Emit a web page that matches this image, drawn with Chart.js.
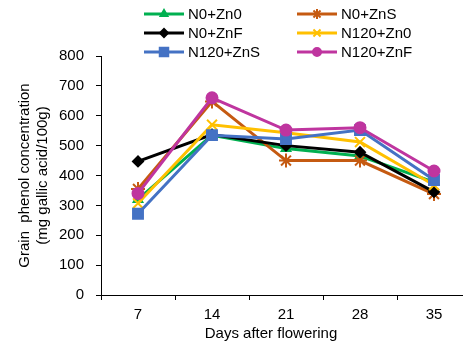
<!DOCTYPE html>
<html>
<head>
<meta charset="utf-8">
<script src="https://cdn.jsdelivr.net/npm/chart.js@4"></script>
<style>
  html, body { margin: 0; padding: 0; background: #fff; overflow: hidden; }
  #wrap { width: 480px; height: 342px; }
</style>
</head>
<body>
<div id="wrap"><canvas id="phenolChart" width="480" height="342"></canvas></div>
<script>
// Days after flowering
const days = ['7', '14', '21', '28', '35'];

// Grain phenol concentration (mg gallic acid/100g)
const n0Zn0 = [320, 535, 490, 465, 378];
const n0ZnS = [355, 648, 450, 450, 338];
const n0ZnF = [447, 537, 500, 478, 345];
const n120Zn0 = [307, 570, 543, 512, 368];
const n120ZnS = [272, 535, 522, 552, 385];
const n120ZnF = [340, 660, 552, 560, 415];

const yTicks = [0, 100, 200, 300, 400, 500, 600, 700, 800];

const FONT = '"Liberation Sans", Arial, sans-serif';

// series styling (name, values, colour, marker)
const series = [
    { label: 'N0+Zn0', data: n0Zn0, color: '#00B050', style: 'triangle', r: 5, lr: 4 },
    { label: 'N0+ZnS', data: n0ZnS, color: '#C55A11', style: 'star', r: 7, lr: 5 },
    { label: 'N0+ZnF', data: n0ZnF, color: '#000000', style: 'rectRot', r: 5, lr: 4 },
    { label: 'N120+Zn0', data: n120Zn0, color: '#FFC000', style: 'crossRot', r: 7, lr: 5 },
    { label: 'N120+ZnS', data: n120ZnS, color: '#4472C4', style: 'rect', r: 7, lr: 6 },
    { label: 'N120+ZnF', data: n120ZnF, color: '#BF359F', style: 'circle', r: 5.5, lr: 4 }
];

/**
 * Legend in two columns, line sample with marker in the middle
 */
const legendPlugin = {
    id: 'twoColLegend',
    afterDraw(chart) {
        const ctx = chart.ctx;
        const cols = [144, 297];
        const rows = [14, 33, 52];
        ctx.save();
        ctx.font = '15px ' + FONT;
        ctx.textBaseline = 'middle';
        ctx.textAlign = 'left';
        series.forEach((s, i) => {
            const x = cols[i % 2];
            const y = rows[Math.floor(i / 2)];
            ctx.strokeStyle = s.color;
            ctx.fillStyle = s.color;
            ctx.lineWidth = 3;
            ctx.beginPath();
            ctx.moveTo(x, y);
            ctx.lineTo(x + 40, y);
            ctx.stroke();
            ctx.lineWidth = 2;
            Chart.helpers.drawPoint(ctx, { pointStyle: s.style, radius: s.lr, rotation: 0, borderWidth: 2 }, x + 20, y);
            ctx.fillStyle = '#000';
            ctx.fillText(s.label, x + 44, y + 1);
        });
        ctx.restore();
    }
};

/**
 * Axis titles (placed like the original figure)
 */
const titlePlugin = {
    id: 'axisTitles',
    afterDraw(chart) {
        const ctx = chart.ctx;
        const area = chart.chartArea;
        ctx.save();
        ctx.font = '15px ' + FONT;
        ctx.fillStyle = '#000';
        ctx.textAlign = 'center';
        ctx.textBaseline = 'middle';
        ctx.fillText('Days after flowering', 271, 334);

        ctx.translate(0, (area.top + area.bottom) / 2);
        ctx.rotate(-Math.PI / 2);
        ctx.fillText('Grain  phenol concentration', 0, 25);
        ctx.fillText('(mg gallic acid/100g)', 0, 43);
        ctx.restore();
    }
};

const datasets = series.map((s, i) => ({
    label: s.label,
    data: s.data,
    borderColor: s.color,
    backgroundColor: s.color,
    borderWidth: 3,
    pointStyle: s.style,
    pointRadius: s.r,
    pointBorderWidth: 2,
    pointHoverRadius: s.r,
    tension: 0,
    order: series.length - i
}));

new Chart(document.getElementById('phenolChart'), {
    type: 'line',
    data: { labels: days, datasets: datasets },
    options: {
        responsive: false,
        animation: false,
        layout: { padding: { top: 56, right: 4, left: 0, bottom: 0 } },
        plugins: {
            legend: { display: false },
            tooltip: { enabled: false }
        },
        scales: {
            x: {
                offset: true,
                grid: {
                    offset: true,
                    drawOnChartArea: false,
                    drawTicks: true,
                    tickLength: 5,
                    color: '#000'
                },
                border: { color: '#000', width: 1 },
                ticks: {
                    color: '#000',
                    font: { size: 15, family: FONT },
                    padding: 6,
                    maxRotation: 0
                },
                afterFit(scale) { scale.height = 47; }
            },
            y: {
                min: yTicks[0],
                max: yTicks[yTicks.length - 1],
                afterBuildTicks(scale) {
                    scale.ticks = yTicks.map(v => ({ value: v }));
                },
                grid: {
                    drawOnChartArea: false,
                    drawTicks: true,
                    tickLength: 5,
                    color: '#000'
                },
                border: { color: '#000', width: 1 },
                ticks: {
                    color: '#000',
                    font: { size: 15, family: FONT },
                    padding: 12
                },
                afterFit(scale) { scale.width = 101; }
            }
        }
    },
    plugins: [legendPlugin, titlePlugin]
});
</script>
</body>
</html>
